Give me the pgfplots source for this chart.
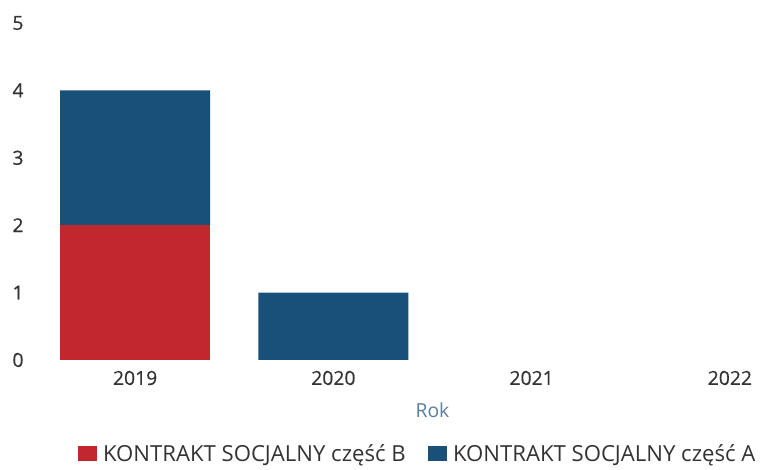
\documentclass[border=0pt]{standalone}
\usepackage{pgfplots}
\pgfplotsset{compat=1.18}
\usepackage{fontspec}
\setmainfont{Open Sans}
\newfontfamily\semib[FakeBold=0.5]{Open Sans}
\definecolor{cred}{HTML}{C0282D}
\definecolor{cblue}{HTML}{18507A}
\definecolor{tickc}{HTML}{333333}
\definecolor{labc}{HTML}{5B7F9E}
\begin{document}
\begin{tikzpicture}
\useasboundingbox (0,0) rectangle (573.75pt,352.5pt);
\begin{axis}[
  at={(27pt,82.5pt)}, anchor=south west,
  scale only axis, width=594.75pt, height=252.75pt,
  ybar stacked, bar width=112.5pt,
  xmin=-0.5, xmax=3.5, ymin=0, ymax=5,
  axis line style={draw=none},
  tick style={draw=none},
  major tick length=0pt,
  xtick={0,1,2,3}, xticklabels={2019,2020,2021,2022},
  ytick={0,1,2,3,4,5},
  tick label style={font=\semib\fontsize{14.5}{16}\selectfont, text=tickc},
  /pgf/number format/assume math mode=true,
  xticklabel style={anchor=center, yshift=-13.5pt},
  yticklabel style={anchor=center, xshift=-13.5pt},
  xlabel={Rok},
  xlabel style={at={(0.5,0)}, anchor=center, yshift=-37.5pt, font=\fontsize{14.5}{16}\selectfont, text=labc},
  legend style={at={(0.482,0)}, anchor=center, yshift=-70.5pt, draw=none, fill=none,
    legend columns=2, font=\fontsize{16.6}{18}\selectfont, text=tickc,
    /tikz/every odd column/.append style={column sep=2.5pt},
    /tikz/every even column/.append style={column sep=15pt},
    legend cell align=left},
  legend image code/.code={\fill[#1] (0pt,-5.5pt) rectangle (14pt,6pt);},
]
\addplot[fill=cred, draw=none] coordinates {(0,2) (1,0) (2,0) (3,0)};
\addlegendentry{KONTRAKT SOCJALNY część B}
\addplot[fill=cblue, draw=none] coordinates {(0,2) (1,1) (2,0) (3,0)};
\addlegendentry{KONTRAKT SOCJALNY część A}
\end{axis}
\end{tikzpicture}
\end{document}
